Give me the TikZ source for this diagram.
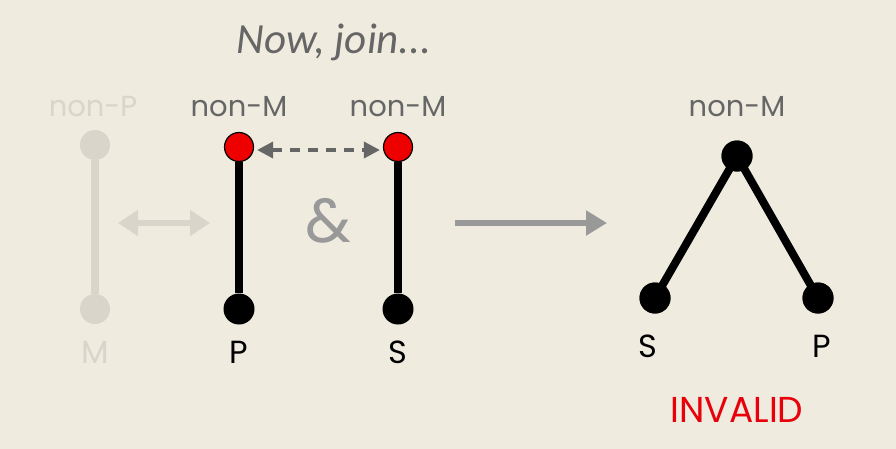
\documentclass[tikz,border=0pt]{standalone}
\usepackage{fontspec}
\setmainfont{Poppins}
\newfontfamily\handfont{Carlito}
\usetikzlibrary{arrows.meta}
\definecolor{bg}{HTML}{EFEBDF}
\definecolor{faded}{HTML}{D9D5CA}
\definecolor{labelgray}{HTML}{666666}
\definecolor{arrowgray}{HTML}{999999}
\definecolor{nodered}{HTML}{EE0000}
\definecolor{invalidred}{HTML}{E8000B}
\tikzset{
  dot/.style={circle,fill=black,minimum size=31pt,inner sep=0pt},
  reddot/.style={circle,fill=nodered,draw=black,line width=1.2pt,minimum size=29pt,inner sep=0pt},
  fadedot/.style={circle,fill=faded,minimum size=30pt,inner sep=0pt},
  lbl/.style={font=\fontsize{29}{34}\selectfont,text=labelgray,inner sep=0pt},
  blbl/.style={font=\fontsize{32}{36}\selectfont,text=black,inner sep=0pt},
  stem/.style={line width=8pt,black},
  fadestem/.style={line width=8pt,faded},
  bigarrow/.style={line width=6.5pt,arrowgray,-{Triangle[length=21pt,width=24pt]}},
  fadearrow/.style={line width=6pt,faded,{Triangle[length=20pt,width=25pt]}-{Triangle[length=20pt,width=25pt]}},
  dasharrow/.style={line width=3.5pt,labelgray,dash pattern=on 10pt off 8pt,{Triangle[length=16pt,width=16pt]}-{Triangle[length=16pt,width=16pt]}},
}
\begin{document}
\begin{tikzpicture}[x=1pt,y=-1pt]
\useasboundingbox (0,0) rectangle (896,448);
\fill[bg] (-3,-3) rectangle (899,451);

% title
\node[font=\handfont\itshape\fontsize{43}{46}\selectfont,text=labelgray,inner sep=0pt] (title) at (334,42) {Now, join...};

% faded group
\node[fadedot] (ft) at (95,145) {};
\node[fadedot] (fb) at (95,309) {};
\draw[fadestem] (ft) -- (fb);
\node[lbl,text=faded] (fnp) at (93,107) {non-P};
\node[blbl,text=faded] (fm) at (95,352) {M};
\coordinate (fa1) at (118,223);
\coordinate (fa2) at (210,223);
\draw[fadearrow] (fa1) -- (fa2);

% left stick
\node[dot] (lb) at (239,309) {};
\node[reddot] (lt) at (239,147) {};
\draw[stem] (lt) -- (lb);
\node[lbl] (lnm) at (239,107) {non-M};
\node[blbl] (lp) at (239,352) {P};

% right stick
\node[dot] (rb) at (398,309) {};
\node[reddot] (rt) at (398,147) {};
\draw[stem] (rt) -- (rb);
\node[lbl] (rnm) at (398,107) {non-M};
\node[blbl] (rs) at (398,352) {S};

\draw[dasharrow,shorten <=3pt,shorten >=3pt] ([yshift=-3pt]lt.east) -- ([yshift=-3pt]rt.west);

% ampersand
\node[font=\fontsize{62}{66}\selectfont,text=arrowgray,inner sep=0pt] (amp) at (328,221) {\&};

% big arrow
\coordinate (a1) at (455,223);
\coordinate (a2) at (607,223);
\draw[bigarrow] (a1) -- (a2);

% result
\node[dot] (top) at (737,156) {};
\node[dot] (s) at (655,298) {};
\node[dot] (p) at (818,298) {};
\draw[stem] (s.center) -- (top.center) -- (p.center);
\node[dot] at (737,156) {};
\node[dot] at (655,298) {};
\node[dot] at (818,298) {};
\node[lbl] (tnm) at (737,107) {non-M};
\node[blbl] (sl) at (648,346) {S};
\node[blbl] (pl) at (822,346) {P};
\node[font=\fontsize{36}{40}\selectfont,text=invalidred,inner sep=0pt] (inv) at (737,410) {INVALID};
\end{tikzpicture}
\end{document}
